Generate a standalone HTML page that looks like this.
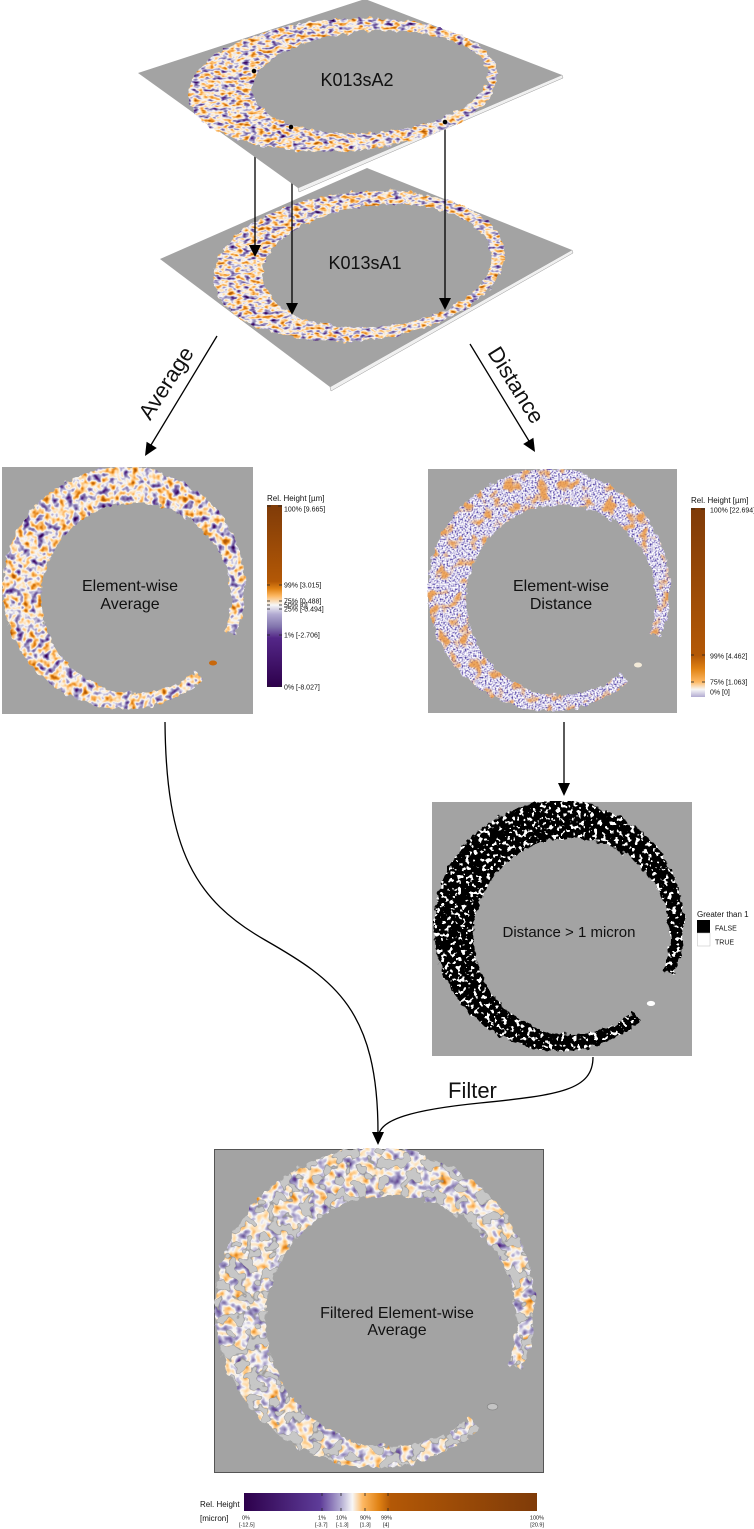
<!DOCTYPE html>
<html><head><meta charset="utf-8">
<style>
html,body{margin:0;padding:0;background:#fff;}
svg{display:block;}
text{font-family:"Liberation Sans",Arial,sans-serif;fill:#111;}
</style></head>
<body>
<svg width="754" height="1529" viewBox="0 0 754 1529" xmlns="http://www.w3.org/2000/svg">
<defs>
  <filter id="fPuOr" x="0" y="0" width="1" height="1" color-interpolation-filters="sRGB">
    <feTurbulence type="fractalNoise" baseFrequency="0.14" numOctaves="2" seed="4"/>
    <feColorMatrix type="matrix" values="1.45 0 0 0 -0.2  1.45 0 0 0 -0.2  1.45 0 0 0 -0.2  0 0 0 0 1"/>
    <feComponentTransfer>
      <feFuncR type="table" tableValues="0.18 0.33 0.50 0.70 0.97 1.0 0.99 0.88 0.70"/>
      <feFuncG type="table" tableValues="0 0.15 0.45 0.67 0.97 0.88 0.72 0.51 0.35"/>
      <feFuncB type="table" tableValues="0.29 0.53 0.67 0.82 0.97 0.71 0.39 0.08 0.02"/>
    </feComponentTransfer>
  </filter>
  <filter id="fPlane" x="0" y="0" width="1" height="1" color-interpolation-filters="sRGB">
    <feTurbulence type="fractalNoise" baseFrequency="0.14 0.26" numOctaves="2" seed="8"/>
    <feColorMatrix type="matrix" values="1.45 0 0 0 -0.2  1.45 0 0 0 -0.2  1.45 0 0 0 -0.2  0 0 0 0 1"/>
    <feComponentTransfer>
      <feFuncR type="table" tableValues="0.18 0.33 0.50 0.70 0.97 1.0 0.99 0.88 0.70"/>
      <feFuncG type="table" tableValues="0 0.15 0.45 0.67 0.97 0.88 0.72 0.51 0.35"/>
      <feFuncB type="table" tableValues="0.29 0.53 0.67 0.82 0.97 0.71 0.39 0.08 0.02"/>
    </feComponentTransfer>
  </filter>
  <filter id="fPale" x="0" y="0" width="1" height="1" color-interpolation-filters="sRGB">
    <feTurbulence type="fractalNoise" baseFrequency="0.14" numOctaves="2" seed="6"/>
    <feColorMatrix type="matrix" values="1.1 0 0 0 -0.05  1.1 0 0 0 -0.05  1.1 0 0 0 -0.05  0 0 0 0 1"/>
    <feComponentTransfer>
      <feFuncR type="table" tableValues="0.18 0.33 0.50 0.70 0.97 1.0 0.99 0.88 0.70"/>
      <feFuncG type="table" tableValues="0 0.15 0.45 0.67 0.97 0.88 0.72 0.51 0.35"/>
      <feFuncB type="table" tableValues="0.29 0.53 0.67 0.82 0.97 0.71 0.39 0.08 0.02"/>
    </feComponentTransfer>
  </filter>
  <filter id="fDistA" x="0" y="0" width="1" height="1" color-interpolation-filters="sRGB">
    <feTurbulence type="fractalNoise" baseFrequency="0.6" numOctaves="1" seed="9"/>
    <feColorMatrix type="matrix" values="2.2 0 0 0 -0.55  2.2 0 0 0 -0.55  2.2 0 0 0 -0.55  0 0 0 0 1"/>
    <feComponentTransfer>
      <feFuncR type="table" tableValues="0.3 0.55 0.82 0.96 1"/>
      <feFuncG type="table" tableValues="0.25 0.5 0.8 0.95 1"/>
      <feFuncB type="table" tableValues="0.62 0.78 0.91 0.98 1"/>
    </feComponentTransfer>
  </filter>
  <filter id="fDistB" x="0" y="0" width="1" height="1" color-interpolation-filters="sRGB">
    <feTurbulence type="fractalNoise" baseFrequency="0.09" numOctaves="2" seed="2"/>
    <feColorMatrix type="matrix" values="0 0 0 0 0.93  0 0 0 0 0.6  0 0 0 0 0.25  5 0 0 0 -2.6"/>
    <feComponentTransfer>
      <feFuncA type="linear" slope="0.85" intercept="0"/>
    </feComponentTransfer>
  </filter>
  <filter id="fBin" x="0" y="0" width="1" height="1" color-interpolation-filters="sRGB">
    <feTurbulence type="fractalNoise" baseFrequency="0.25" numOctaves="2" seed="12"/>
    <feColorMatrix type="matrix" values="30 0 0 0 -17.6  30 0 0 0 -17.6  30 0 0 0 -17.6  0 0 0 0 1"/>
  </filter>
  <filter id="fBlobDark" x="0" y="0" width="1" height="1" color-interpolation-filters="sRGB">
    <feTurbulence type="fractalNoise" baseFrequency="0.12" numOctaves="2" seed="21"/>
    <feColorMatrix type="matrix" values="0 0 0 0 0.55  0 0 0 0 0.55  0 0 0 0 0.55  25 0 0 0 -12.9"/>
  </filter>
  <filter id="fBlobLight" x="0" y="0" width="1" height="1" color-interpolation-filters="sRGB">
    <feTurbulence type="fractalNoise" baseFrequency="0.12" numOctaves="2" seed="21"/>
    <feColorMatrix type="matrix" values="0 0 0 0 0.78  0 0 0 0 0.78  0 0 0 0 0.78  25 0 0 0 -13.6"/>
  </filter>
  <filter id="fRag" x="-0.1" y="-0.1" width="1.2" height="1.2">
    <feTurbulence type="fractalNoise" baseFrequency="0.15" numOctaves="2" seed="3" result="t"/>
    <feDisplacementMap in="SourceGraphic" in2="t" scale="7" xChannelSelector="R" yChannelSelector="G"/>
  </filter>

  <mask id="mRing" maskUnits="userSpaceOnUse" x="-10" y="-10" width="280" height="280">
    <g filter="url(#fRag)">
      <rect x="-10" y="-10" width="280" height="280" fill="#000"/>
      <circle cx="122" cy="121" r="121" fill="#fff"/>
      <circle cx="134" cy="131" r="95" fill="#000"/>
      <polygon points="122,121 262,180 222,236" fill="#000"/>
    </g>
  </mask>
  <mask id="mTop" maskUnits="userSpaceOnUse" x="0" y="0" width="754" height="220">
    <g filter="url(#fRag)">
      <rect x="0" y="0" width="754" height="220" fill="#000"/>
      <ellipse cx="343" cy="85" rx="155" ry="66" transform="rotate(-4 343 85)" fill="#fff"/>
      <ellipse cx="370" cy="82" rx="118" ry="51" transform="rotate(-4 370 82)" fill="#000"/>
    </g>
  </mask>
  <mask id="mLow" maskUnits="userSpaceOnUse" x="0" y="150" width="754" height="240">
    <g filter="url(#fRag)">
      <rect x="0" y="150" width="754" height="240" fill="#000"/>
      <ellipse cx="359" cy="266" rx="146" ry="74" transform="rotate(-6 359 266)" fill="#fff"/>
      <ellipse cx="377" cy="266" rx="115" ry="61" transform="rotate(-6 377 266)" fill="#000"/>
    </g>
  </mask>

  <linearGradient id="gAvg" x1="0" y1="0" x2="0" y2="1">
    <stop offset="0" stop-color="#7f3b08"/>
    <stop offset="0.42" stop-color="#b35806"/>
    <stop offset="0.46" stop-color="#e08214"/>
    <stop offset="0.5" stop-color="#fdb863"/>
    <stop offset="0.55" stop-color="#f7f7f7"/>
    <stop offset="0.6" stop-color="#b2abd2"/>
    <stop offset="0.67" stop-color="#8073ac"/>
    <stop offset="0.73" stop-color="#542788"/>
    <stop offset="1" stop-color="#2d004b"/>
  </linearGradient>
  <linearGradient id="gDist" x1="0" y1="0" x2="0" y2="1">
    <stop offset="0" stop-color="#7f3b08"/>
    <stop offset="0.78" stop-color="#b35806"/>
    <stop offset="0.85" stop-color="#e08214"/>
    <stop offset="0.92" stop-color="#fdb863"/>
    <stop offset="0.96" stop-color="#f7f7f7"/>
    <stop offset="1" stop-color="#b2abd2"/>
  </linearGradient>
  <linearGradient id="gBot" x1="0" y1="0" x2="1" y2="0">
    <stop offset="0" stop-color="#2d004b"/>
    <stop offset="0.26" stop-color="#5e3c99"/>
    <stop offset="0.33" stop-color="#b2abd2"/>
    <stop offset="0.37" stop-color="#f7f7f7"/>
    <stop offset="0.405" stop-color="#fdb863"/>
    <stop offset="0.46" stop-color="#e08214"/>
    <stop offset="0.5" stop-color="#b35806"/>
    <stop offset="1" stop-color="#7f3b08"/>
  </linearGradient>
</defs>

<!-- ===== Lower plane K013sA1 ===== -->
<polygon points="160,259 367,168 572,250 330,387" fill="#a3a3a3"/>
<polygon points="330,387 572,250 573,253 331,391" fill="#f0f0f0" stroke="#9a9a9a" stroke-width="0.5"/>
<g mask="url(#mLow)">
  <rect x="205" y="180" width="315" height="170" filter="url(#fPlane)"/>
</g>
<text x="365" y="269" font-size="18" text-anchor="middle">K013sA1</text>

<!-- vertical arrows -->
<g stroke="#000" stroke-width="1.3">
  <line x1="255" y1="140" x2="255" y2="246"/>
  <line x1="292" y1="170" x2="292" y2="304"/>
  <line x1="445" y1="122" x2="445" y2="299"/>
</g>
<g fill="#000">
  <polygon points="255,257 249,245 261,245"/>
  <polygon points="292,315 286,303 298,303"/>
  <polygon points="445,310 439,298 451,298"/>
</g>

<!-- ===== Top plane K013sA2 ===== -->
<polygon points="138,73 365,-1 562,75 298,188" fill="#a3a3a3"/>
<polygon points="298,188 562,75 563,78 299,192" fill="#f0f0f0" stroke="#9a9a9a" stroke-width="0.5"/>
<g mask="url(#mTop)">
  <rect x="180" y="8" width="330" height="155" filter="url(#fPlane)"/>
</g>
<text x="357" y="86" font-size="18" text-anchor="middle">K013sA2</text>
<g fill="#000">
  <circle cx="254" cy="71" r="2.3"/>
  <circle cx="291" cy="127" r="2.3"/>
  <circle cx="445" cy="122" r="2.3"/>
</g>

<!-- ===== Average / Distance arrows ===== -->
<line x1="217" y1="336" x2="151" y2="445" stroke="#000" stroke-width="1.3"/>
<polygon points="145,456 156.8,448 146.6,441.8" fill="#000"/>
<text x="166" y="383" font-size="22" text-anchor="middle" dominant-baseline="central" transform="rotate(-57 166 383)">Average</text>

<line x1="470" y1="344" x2="529" y2="441" stroke="#000" stroke-width="1.3"/>
<polygon points="535,452 533.4,437.8 523.2,444" fill="#000"/>
<text x="516" y="385" font-size="22" text-anchor="middle" dominant-baseline="central" transform="rotate(58 516 385)">Distance</text>

<!-- ===== Element-wise Average panel ===== -->
<rect x="2" y="467" width="251" height="247" fill="#a3a3a3"/>
<g transform="translate(2,467)">
  <g mask="url(#mRing)">
    <rect x="0" y="0" width="250" height="247" filter="url(#fPuOr)"/>
  </g>
  <ellipse cx="211" cy="196" rx="4" ry="2.5" fill="#c8680c"/>
</g>
<text x="130" y="591" font-size="16" text-anchor="middle">Element-wise</text>
<text x="130" y="609" font-size="16" text-anchor="middle">Average</text>

<!-- avg colorbar -->
<text x="267" y="501" font-size="8" fill="#222">Rel. Height [µm]</text>
<rect x="267" y="505" width="15" height="182" fill="url(#gAvg)"/>
<g stroke="#222" stroke-width="0.8">
  <line x1="267" y1="506" x2="271" y2="506"/><line x1="278" y1="506" x2="282" y2="506"/>
  <line x1="267" y1="585" x2="270" y2="585"/><line x1="279" y1="585" x2="282" y2="585"/>
  <line x1="267" y1="601" x2="270" y2="601"/><line x1="279" y1="601" x2="282" y2="601"/>
  <line x1="267" y1="605" x2="270" y2="605"/><line x1="279" y1="605" x2="282" y2="605"/>
  <line x1="267" y1="609" x2="270" y2="609"/><line x1="279" y1="609" x2="282" y2="609"/>
  <line x1="267" y1="635" x2="270" y2="635"/><line x1="279" y1="635" x2="282" y2="635"/>
  <line x1="267" y1="686" x2="271" y2="686"/><line x1="278" y1="686" x2="282" y2="686"/>
</g>
<g font-size="7" fill="#222">
  <text x="284" y="511.5">100% [9.665]</text>
  <text x="284" y="587.5">99% [3.015]</text>
  <text x="284" y="603.5">75% [0.488]</text>
  <text x="284" y="607.5">50% [0]</text>
  <text x="284" y="611.5">25% [-0.494]</text>
  <text x="284" y="637.5">1% [-2.706]</text>
  <text x="284" y="689.5">0% [-8.027]</text>
</g>

<!-- ===== Element-wise Distance panel ===== -->
<rect x="428" y="469" width="249" height="244" fill="#a3a3a3"/>
<g transform="translate(427,469)">
  <g mask="url(#mRing)">
    <rect x="0" y="0" width="250" height="247" filter="url(#fDistA)"/>
    <rect x="0" y="0" width="250" height="247" filter="url(#fDistB)"/>
  </g>
  <ellipse cx="211" cy="196" rx="4" ry="2.5" fill="#f3ead8"/>
</g>
<text x="561" y="591" font-size="16" text-anchor="middle">Element-wise</text>
<text x="561" y="609" font-size="16" text-anchor="middle">Distance</text>

<!-- distance colorbar -->
<text x="691" y="503" font-size="8" fill="#222">Rel. Height [µm]</text>
<rect x="691" y="508" width="14" height="189" fill="url(#gDist)"/>
<g stroke="#222" stroke-width="0.8">
  <line x1="691" y1="509" x2="695" y2="509"/><line x1="701" y1="509" x2="705" y2="509"/>
  <line x1="691" y1="655" x2="694" y2="655"/><line x1="702" y1="655" x2="705" y2="655"/>
  <line x1="691" y1="682" x2="694" y2="682"/><line x1="702" y1="682" x2="705" y2="682"/>
</g>
<g font-size="7" fill="#222">
  <text x="710" y="512.5">100% [22.694]</text>
  <text x="710" y="658.5">99% [4.462]</text>
  <text x="710" y="684.5">75% [1.063]</text>
  <text x="710" y="694.5">0% [0]</text>
</g>

<!-- arrow distance -> binary -->
<line x1="564" y1="722" x2="564" y2="785" stroke="#000" stroke-width="1.3"/>
<polygon points="564,796 558,783 570,783" fill="#000"/>

<!-- ===== Distance > 1 micron panel ===== -->
<rect x="432" y="802" width="260" height="254" fill="#a3a3a3"/>
<g transform="translate(433,801) scale(1.033)">
  <g mask="url(#mRing)">
    <rect x="0" y="0" width="250" height="247" filter="url(#fBin)"/>
  </g>
  <ellipse cx="211" cy="196" rx="4" ry="2.5" fill="#fff"/>
</g>
<text x="569" y="937" font-size="15" text-anchor="middle">Distance &gt; 1 micron</text>
<text x="697" y="917" font-size="8" fill="#222">Greater than 1</text>
<rect x="697" y="920" width="13" height="13" fill="#000"/>
<rect x="697.5" y="933" width="12.5" height="13" fill="#fff" stroke="#bbb" stroke-width="0.5"/>
<text x="715" y="930.5" font-size="7" fill="#222">FALSE</text>
<text x="715" y="944.5" font-size="7" fill="#222">TRUE</text>

<!-- ===== curves ===== -->
<path d="M165,722 C166,850 195,900 265,940 C335,980 378,1010 378,1133" fill="none" stroke="#000" stroke-width="1.3"/>
<path d="M593,1057 C593,1090 560,1095 480,1103 C410,1110 382,1120 379,1134" fill="none" stroke="#000" stroke-width="1.3"/>
<polygon points="378,1145 372,1132 384,1132" fill="#000"/>
<text x="448" y="1098" font-size="22">Filter</text>

<!-- ===== Filtered Element-wise Average panel ===== -->
<rect x="214.5" y="1149.5" width="329" height="323" fill="#a3a3a3" stroke="#555" stroke-width="1"/>
<g transform="translate(214,1148) scale(1.32)">
  <g mask="url(#mRing)">
    <rect x="0" y="0" width="250" height="247" filter="url(#fPale)"/>
    <rect x="0" y="0" width="250" height="247" filter="url(#fBlobDark)"/>
    <rect x="0" y="0" width="250" height="247" filter="url(#fBlobLight)"/>
  </g>
  <ellipse cx="211" cy="196" rx="4" ry="2.5" fill="#c4c4c4" stroke="#8a8a8a" stroke-width="0.6"/>
</g>
<text x="397" y="1318" font-size="16" text-anchor="middle">Filtered Element-wise</text>
<text x="397" y="1335" font-size="16" text-anchor="middle">Average</text>

<!-- bottom colorbar -->
<text x="200" y="1507" font-size="8" fill="#222">Rel. Height</text>
<text x="200" y="1521" font-size="8" fill="#222">[micron]</text>
<rect x="244" y="1493" width="293" height="18" fill="url(#gBot)"/>
<g stroke="#222" stroke-width="0.8">
  <line x1="322" y1="1493" x2="322" y2="1496"/><line x1="322" y1="1508" x2="322" y2="1511"/>
  <line x1="341" y1="1493" x2="341" y2="1496"/><line x1="341" y1="1508" x2="341" y2="1511"/>
  <line x1="365" y1="1493" x2="365" y2="1496"/><line x1="365" y1="1508" x2="365" y2="1511"/>
  <line x1="388" y1="1493" x2="388" y2="1496"/><line x1="388" y1="1508" x2="388" y2="1511"/>
</g>
<g font-size="5.5" fill="#333">
  <text x="242" y="1519.5">0%</text>
  <text x="239" y="1526.5">[-12.5]</text>
  <text x="318" y="1519.5">1%</text>
  <text x="315" y="1526.5">[-3.7]</text>
  <text x="336" y="1519.5">10%</text>
  <text x="336" y="1526.5">[-1.3]</text>
  <text x="360" y="1519.5">90%</text>
  <text x="360" y="1526.5">[1.3]</text>
  <text x="381" y="1519.5">99%</text>
  <text x="383" y="1526.5">[4]</text>
  <text x="544" y="1519.5" text-anchor="end">100%</text>
  <text x="544" y="1526.5" text-anchor="end">[20.9]</text>
</g>
</svg>
</body></html>
